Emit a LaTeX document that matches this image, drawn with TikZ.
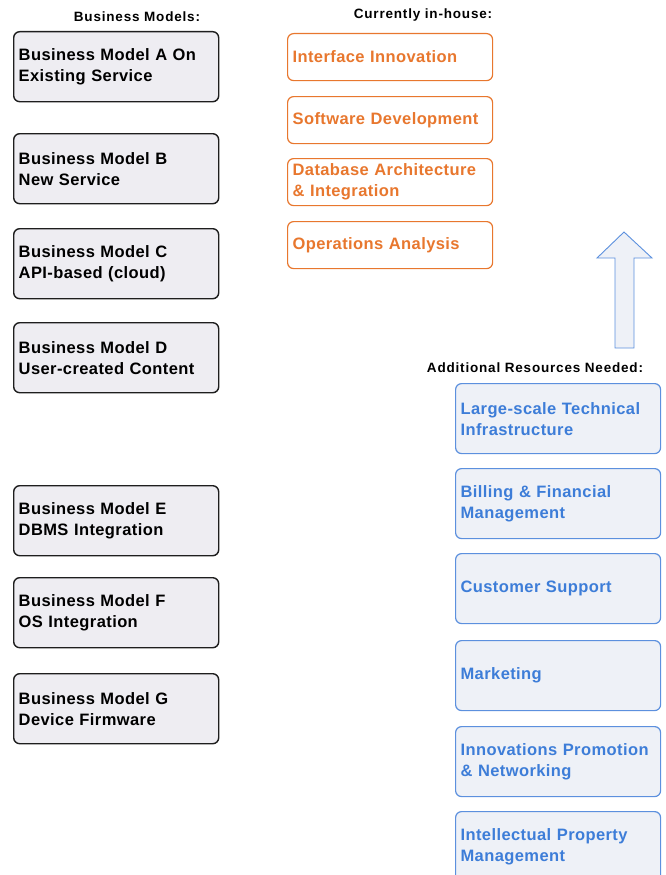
\documentclass[tikz,border=0pt]{standalone}
\usepackage{fontspec}
\setmainfont{Liberation Sans}
\definecolor{modelfill}{HTML}{EEEDF2}
\definecolor{modeldraw}{HTML}{1E1E1E}
\definecolor{houseorange}{HTML}{E8772E}
\definecolor{needblue}{HTML}{3D7DD8}
\definecolor{needdraw}{HTML}{5C90DE}
\definecolor{needfill}{HTML}{EEF1F7}
\begin{document}
\begin{tikzpicture}[x=1pt,y=-1pt,
  box/.style={rectangle, rounded corners=6pt, anchor=north west,
    minimum width=205pt, minimum height=70pt, text width=195pt,
    inner xsep=5pt, inner ysep=0pt, align=left,
    font=\fontsize{16.5}{21}\selectfont\bfseries\addfontfeatures{LetterSpace=2.5}},
  modelbox/.style={box, draw=modeldraw, fill=modelfill, line width=1.4pt, text=black},
  housebox/.style={box, draw=houseorange, fill=white, line width=1.2pt,
    text=houseorange, minimum height=47pt},
  needbox/.style={box, draw=needdraw, fill=needfill, line width=1.2pt, text=needblue},
  heading/.style={font=\fontsize{13.5}{15}\selectfont\bfseries\addfontfeatures{LetterSpace=6},
    text=black, inner sep=0pt}]
\useasboundingbox (0,0) rectangle (665,875);
\clip (0,0) rectangle (665,875);

% column headings
\node[heading] (hmodels) at (137,17) {Business Models:};
\node[heading] (hhouse) at (423,15) {Currently in-house:};
\node[heading] (hneed) at (535,368) {Additional Resources Needed:};

% business models
\node[modelbox] (ma) at (13,31)  {Business Model A On Existing Service};
\node[modelbox] (mb) at (13,133) {Business Model B\\New Service};
\node[modelbox] (mc) at (13,228) {Business Model C\\API-based (cloud)};
\node[modelbox] (md) at (13,322) {Business Model D\\User-created Content};
\node[modelbox] (me) at (13,485) {Business Model E\\DBMS Integration};
\node[modelbox] (mf) at (13,577) {Business Model F\\OS Integration};
\node[modelbox] (mg) at (13,673) {Business Model G\\Device Firmware};

% in-house capabilities
\node[housebox] (h1) at (287,33)  {Interface Innovation};
\node[housebox] (h2) at (287,96)  {Software Development};
\node[housebox] (h3) at (287,158) {Database Architecture\\\& Integration};
\node[housebox] (h4) at (287,221) {Operations Analysis};

% resources still needed
\node[needbox] (n1) at (455,383) {Large-scale Technical\\Infrastructure};
\node[needbox] (n2) at (455,468) {Billing \& Financial\\Management};
\node[needbox] (n3) at (455,553) {Customer Support};
\node[needbox] (n4) at (455,640) {Marketing};
\node[needbox] (n5) at (455,726) {Innovations Promotion\\\& Networking};
\node[needbox] (n6) at (455,811) {Intellectual Property\\Management};

% block arrow pointing up toward the in-house column
\draw[draw=needdraw, fill=needfill, line width=0.9pt, line join=miter]
  (624,232) -- (652,258) -- (634,258) -- (634,348) -- (615,348)
  -- (615,258) -- (597,258) -- cycle;
\end{tikzpicture}
\end{document}
